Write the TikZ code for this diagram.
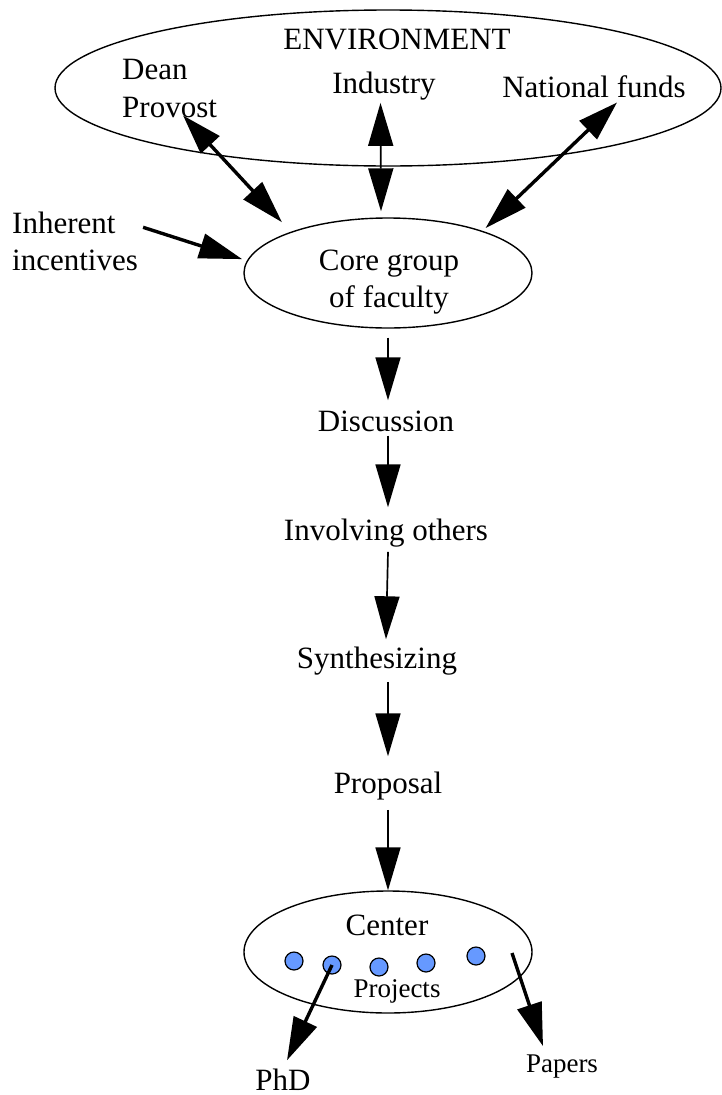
\documentclass[tikz,border=0pt]{standalone}
\usepackage{fontspec}
\setmainfont{Liberation Serif}
\usetikzlibrary{arrows.meta,shapes.geometric}
\definecolor{projblue}{RGB}{102,153,255}
\begin{document}
\begin{tikzpicture}[x=1pt,y=-1pt,
    lbl/.style={inner sep=0pt,font=\fontsize{31}{37}\selectfont},
    small/.style={inner sep=0pt,font=\fontsize{27}{32}\selectfont},
    blob/.style={draw,ellipse,line width=1.4pt,inner sep=0pt},
    thinarr/.style={line width=1.7pt,-{Triangle[length=43pt,width=25pt]}},
    thindbl/.style={line width=1.7pt,{Triangle[length=43pt,width=25pt]}-{Triangle[length=43pt,width=25pt]}},
    thickarr/.style={line width=3.4pt,-{Triangle[length=43pt,width=25pt]}},
    thickdbl/.style={line width=3.4pt,{Triangle[length=40pt,width=25pt]}-{Triangle[length=43pt,width=25pt]}},
    dot/.style={circle,draw,fill=projblue,line width=1.2pt,minimum size=18pt,inner sep=0pt}]
    \useasboundingbox (0,0) rectangle (722,1095);
    % environment
    \node[blob,minimum width=666pt,minimum height=156pt] (env) at (388,88) {};
    \node[lbl,anchor=base] (envt) at (397,49) {ENVIRONMENT};
    \node[lbl,anchor=base west] (dean) at (122,79) {Dean};
    \node[lbl,anchor=base west] (prov) at (122,117) {Provost};
    \node[lbl,anchor=base] (ind) at (384,93) {Industry};
    \node[lbl,anchor=base] (natl) at (594,97) {National funds};
    \node[lbl,anchor=base west,align=left] (inh) at (12,270) {Inherent\\incentives};
    % core group
    \node[blob,minimum width=288pt,minimum height=110pt] (core) at (388,273) {};
    \node[lbl,anchor=base,align=center] (coret) at (389,307) {Core group\\of faculty};
    \draw[thickdbl,shorten >=13pt] ([xshift=13.5pt,yshift=2pt]prov.south) -- (core.157);
    \draw[thindbl] ([xshift=-3.5pt,yshift=-3pt]ind.south) -- ([xshift=-7pt,yshift=6pt]core.north);
    \draw[thickdbl,shorten >=4pt] ([xshift=23pt,yshift=-5pt]natl.south) -- (core.24);
    \draw[thickarr,shorten >=5pt] ([xshift=5pt,yshift=-16pt]inh.north east) -- (core.175);
    % steps
    \node[lbl,anchor=base] (disc) at (386,431) {Discussion};
    \node[lbl,anchor=base] (inv) at (386,540) {Involving others};
    \node[lbl,anchor=base] (synth) at (377,668) {Synthesizing};
    \node[lbl,anchor=base] (prop) at (388,793) {Proposal};
    \draw[thinarr] ([yshift=-9pt]core.south) -- ([xshift=2pt,yshift=10pt]disc.north);
    \draw[thinarr] ([xshift=2pt,yshift=-4pt]disc.south) -- ([xshift=2pt,yshift=11pt]inv.north);
    \draw[thinarr] ([xshift=2pt,yshift=-5pt]inv.south) -- ([xshift=9pt,yshift=7pt]synth.north);
    \draw[thinarr] ([xshift=11pt,yshift=-7pt]synth.south) -- ([yshift=15pt]prop.north);
    % center
    \node[blob,minimum width=288pt,minimum height=122pt] (cen) at (388,952) {};
    \node[lbl,anchor=base] (cent) at (387,935) {Center};
    \node[small,anchor=base] (projt) at (397,997) {Projects};
    \foreach \i/\px/\py in {1/294/961,2/332/965,3/379/967,4/426/963,5/476/956}
      \node[dot] (p\i) at (\px,\py) {};
    \draw[thinarr] ([yshift=-10pt]prop.south) -- (cen.north);
    \node[lbl,anchor=base] (phd) at (283,1090) {PhD};
    \node[small,anchor=base] (pap) at (562,1072) {Papers};
    \coordinate (pout) at (512,953);
    \draw[thickarr] (p2.center) -- ([xshift=4pt,yshift=8pt]phd.north);
    \draw[thickarr] (pout) -- ([xshift=-19pt,yshift=8pt]pap.north);
\end{tikzpicture}
\end{document}
